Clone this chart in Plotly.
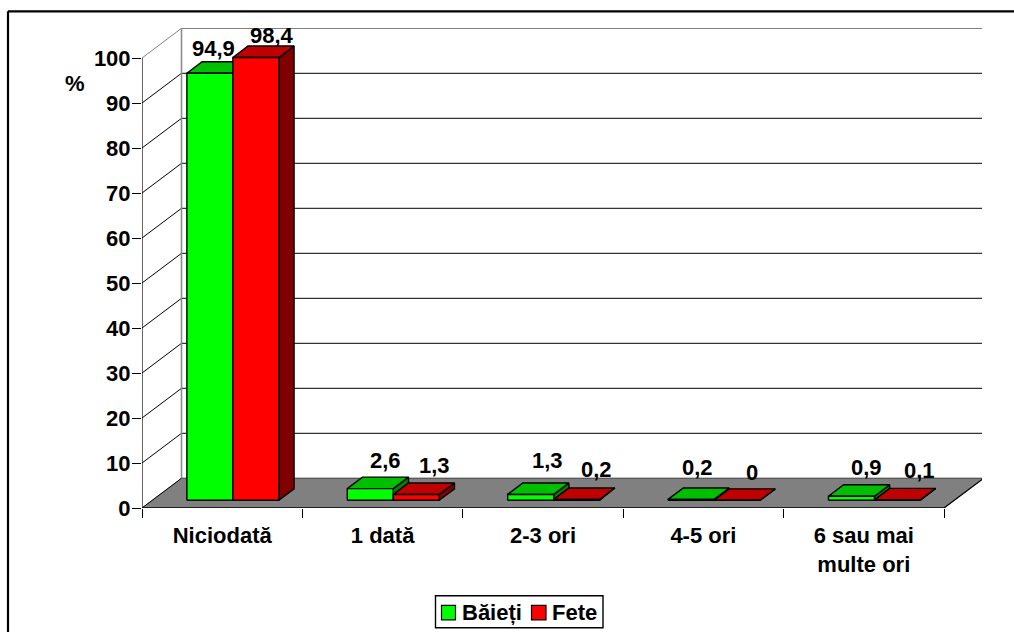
import plotly.graph_objects as go

# Survey results by answer category
categories = ["Niciodată", "1 dată", "2-3 ori", "4-5 ori", "6 sau mai<br>multe ori"]
baieti = [94.9, 2.6, 1.3, 0.2, 0.9]
fete = [98.4, 1.3, 0.2, 0.0, 0.1]
baieti_labels = ["94,9", "2,6", "1,3", "0,2", "0,9"]
fete_labels = ["98,4", "1,3", "0,2", "0", "0,1"]
y_ticks = list(range(0, 101, 10))

FONT = "Liberation Sans"
TXT = 22

# Frame of the plot area in page pixels
PX_L, PX_R, PX_T, PX_B = 142.0, 982.0, 27.7, 507.7
CAT_PX = 160.4   # pixels per category
VAL_PX = 4.5     # pixels per percentage point
DEPTH_X = 39.5 / CAT_PX   # oblique projection of the floor depth
DEPTH_Y = 29.7 / VAL_PX

X_MIN = -0.5
X_MAX = X_MIN + (PX_R - PX_L) / CAT_PX
Y_MAX = (PX_B - PX_T) / VAL_PX

BAR_W = 46.0 / CAT_PX
BAR_NEAR = 0.26
BAR_FAR = 0.645
BAR_BIAS = 0.4 / CAT_PX

# Label offsets from the top of each bar, in pixels (right, up)
shift_baieti = [(3.2, 25), (15, 27.6), (16.5, 34), (6.5, 32), (15.5, 29)]
shift_fete = [(16, 22), (18.5, 28.5), (19.5, 30), (14.5, 28), (22.5, 29)]


def proj(x, v, d):
    """Oblique projection of (category x, value v, depth d) onto the axes."""
    return x + d * DEPTH_X, v + d * DEPTH_Y


def poly(points, fill, line="black", width=1.4):
    xs, ys = zip(*[proj(*p) for p in points + points[:1]])
    return go.Scatter(
        x=xs, y=ys, mode="lines", fill="toself", fillcolor=fill,
        line=dict(color=line, width=width), hoverinfo="skip", showlegend=False,
    )


def segment(p, q, color, width=1.0):
    xs, ys = zip(proj(*p), proj(*q))
    return go.Scatter(
        x=xs, y=ys, mode="lines", line=dict(color=color, width=width),
        hoverinfo="skip", showlegend=False, cliponaxis=False,
    )


def box(x0, x1, v, front, top, side):
    return [
        poly([(x1, 0, BAR_NEAR), (x1, 0, BAR_FAR), (x1, v, BAR_FAR), (x1, v, BAR_NEAR)], side),
        poly([(x0, v, BAR_NEAR), (x1, v, BAR_NEAR), (x1, v, BAR_FAR), (x0, v, BAR_FAR)], top),
        poly([(x0, 0, BAR_NEAR), (x1, 0, BAR_NEAR), (x1, v, BAR_NEAR), (x0, v, BAR_NEAR)], front),
    ]


fig = go.Figure()
x_end = X_MIN + len(categories)

# Floor
fig.add_trace(poly([(X_MIN, 0, 0), (x_end, 0, 0), (x_end, 0, 1), (X_MIN, 0, 1)],
                   "#808080", line="#808080", width=1))

# Gridlines on the side wall and the back wall
for t in y_ticks:
    colour = "#808080" if t == 100 else "black"
    fig.add_trace(segment((X_MIN, t, 0), (X_MIN, t, 1), colour))
    if 0 < t < 100:
        fig.add_trace(segment((X_MIN, t, 1), (x_end, t, 1), "black"))

# Wall outline
fig.add_trace(segment((X_MIN, 0, 1), (X_MIN, 100, 1), "#8c8c8c", 1.6))
fig.add_trace(segment((X_MIN, 100, 1), (x_end, 100, 1), "#808080", 1.6))
fig.add_trace(segment((x_end, 0, 1), (x_end, 100, 1), "#a6a6a6", 1.6))
fig.add_trace(segment((X_MIN, 0, 1), (x_end, 0, 1), "#595959", 1.2))

# Front edges of the floor and the value axis line
fig.add_trace(segment((X_MIN, 0, 0), (x_end, 0, 0), "black", 1.4))
fig.add_trace(segment((x_end, 0, 0), (x_end, 0, 1), "black", 1.2))
fig.add_trace(segment((X_MIN, 0, 0), (X_MIN, 100, 0), "black", 1.2))

# Bars
for i in range(len(categories)):
    mid = i + BAR_BIAS
    for trace in box(mid - BAR_W, mid, baieti[i], "#00ff00", "#00bf00", "#008000"):
        fig.add_trace(trace)
    for trace in box(mid, mid + BAR_W, fete[i], "#ff0000", "#bf0000", "#800000"):
        fig.add_trace(trace)

# Value labels
for i in range(len(categories)):
    mid = i + BAR_BIAS + BAR_NEAR * DEPTH_X
    sets = [
        (mid - BAR_W / 2, baieti[i], baieti_labels[i], shift_baieti[i]),
        (mid + BAR_W / 2, fete[i], fete_labels[i], shift_fete[i]),
    ]
    for x, v, text, (dx, dy) in sets:
        fig.add_annotation(
            x=x, y=v + BAR_NEAR * DEPTH_Y, text=text, showarrow=False,
            xshift=dx, yshift=dy, xanchor="center", yanchor="middle",
            font=dict(family=FONT, size=TXT, color="black", weight=700),
        )


def px_x(p):
    return (p - PX_L) / (PX_R - PX_L)


def px_y(p):
    return (PX_B - p) / (PX_B - PX_T)


def paper_text(text, cx, cy, anchor="center"):
    fig.add_annotation(
        xref="paper", yref="paper", x=px_x(cx), y=px_y(cy), text=text,
        showarrow=False, xanchor=anchor, yanchor="middle",
        font=dict(family=FONT, size=TXT, color="black", weight=700),
    )


def paper_rect(x0, y0, x1, y1, fill, line, width):
    fig.add_shape(
        type="rect", xref="paper", yref="paper", layer="above",
        x0=px_x(x0), x1=px_x(x1), y0=px_y(y0), y1=px_y(y1),
        fillcolor=fill, line=dict(color=line, width=width),
    )


paper_text("%", 75, 83)

# Outer frame: left and top edges run to the page limit
for x0, y0, x1, y1 in [(8, 640, 8, 11), (8, 11, 1020, 11)]:
    fig.add_shape(type="line", xref="paper", yref="paper", layer="above",
                  x0=px_x(x0), y0=px_y(y0), x1=px_x(x1), y1=px_y(y1),
                  line=dict(color="black", width=2.2))

# Legend box
paper_rect(435.5, 595.5, 603, 627.5, "white", "black", 1.4)
paper_rect(441.5, 605, 455.5, 619.5, "#00ff00", "black", 1.2)
paper_rect(531.5, 605, 546, 619.5, "#ff0000", "black", 1.2)
paper_text("Băieți", 459.5, 612, "left")
paper_text("Fete", 549.5, 612, "left")

fig.update_layout(
    width=1014, height=632, autosize=False,
    margin=dict(l=PX_L, r=1014 - PX_R, t=PX_T, b=632 - PX_B, pad=0),
    paper_bgcolor="white", plot_bgcolor="white",
    showlegend=False,
    font=dict(family=FONT, size=TXT, color="black"),
    xaxis=dict(
        range=[X_MIN, X_MAX], tickvals=[X_MIN + k for k in range(len(categories) + 1)],
        ticktext=[""] * (len(categories) + 1),
        ticks="outside", ticklen=9, tickwidth=1.2, tickcolor="black",
        showgrid=False, zeroline=False, showline=False,
    ),
    xaxis2=dict(
        range=[X_MIN, X_MAX], overlaying="x", side="bottom", matches="x",
        tickvals=list(range(len(categories))), ticktext=categories,
        ticks="", ticklabelstandoff=12,
        tickfont=dict(family=FONT, size=TXT, color="black", weight=700),
        showgrid=False, zeroline=False, showline=False,
    ),
    yaxis=dict(
        range=[0, Y_MAX], tickvals=y_ticks, ticks="outside", ticklen=9,
        tickwidth=1.2, tickcolor="black", ticklabelstandoff=-3,
        tickfont=dict(family=FONT, size=TXT, color="black", weight=700),
        showgrid=False, zeroline=False, showline=False,
    ),
)

# An empty trace bound to the second x axis keeps its category labels on the page
fig.add_trace(go.Scatter(x=[None], y=[None], xaxis="x2", yaxis="y", showlegend=False, hoverinfo="skip"))

fig.write_html("out.html", config={"displayModeBar": False})
